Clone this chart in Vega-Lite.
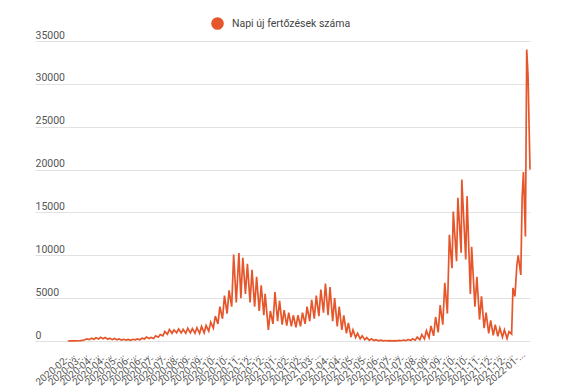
{
 "$schema": "https://vega.github.io/schema/vega-lite/v6.json",
 "width": 495, "height": 300,
 "autosize": {"type": "none"},
 "padding": {"left": 35, "top": 41, "right": 45, "bottom": 51},
 "background": "white",
 "config": {"view": {"stroke": null}, "font": "Roboto"},
 "data": {"values": [
  {"d":"2020-02-26","v":1},
  {"d":"2020-03-02","v":3},{"d":"2020-03-05","v":4},
  {"d":"2020-03-09","v":15},{"d":"2020-03-12","v":30},
  {"d":"2020-03-16","v":55},{"d":"2020-03-19","v":80},
  {"d":"2020-03-23","v":140},{"d":"2020-03-26","v":250},
  {"d":"2020-03-30","v":160},{"d":"2020-04-02","v":330},
  {"d":"2020-04-06","v":200},{"d":"2020-04-09","v":380},
  {"d":"2020-04-13","v":240},{"d":"2020-04-16","v":430},
  {"d":"2020-04-20","v":260},{"d":"2020-04-23","v":400},
  {"d":"2020-04-27","v":200},{"d":"2020-04-30","v":330},
  {"d":"2020-05-04","v":160},{"d":"2020-05-07","v":300},
  {"d":"2020-05-11","v":140},{"d":"2020-05-14","v":250},
  {"d":"2020-05-18","v":110},{"d":"2020-05-21","v":200},
  {"d":"2020-05-25","v":100},{"d":"2020-05-28","v":180},
  {"d":"2020-06-01","v":90},{"d":"2020-06-04","v":200},
  {"d":"2020-06-08","v":130},{"d":"2020-06-11","v":240},
  {"d":"2020-06-15","v":150},{"d":"2020-06-18","v":320},
  {"d":"2020-06-22","v":240},{"d":"2020-06-25","v":460},
  {"d":"2020-06-29","v":300},{"d":"2020-07-02","v":420},
  {"d":"2020-07-06","v":300},{"d":"2020-07-09","v":600},
  {"d":"2020-07-13","v":450},{"d":"2020-07-16","v":750},
  {"d":"2020-07-20","v":600},{"d":"2020-07-23","v":1100},
  {"d":"2020-07-27","v":800},{"d":"2020-07-30","v":1350},
  {"d":"2020-08-03","v":900},{"d":"2020-08-06","v":1300},
  {"d":"2020-08-10","v":950},{"d":"2020-08-13","v":1400},
  {"d":"2020-08-17","v":950},{"d":"2020-08-20","v":1350},
  {"d":"2020-08-24","v":900},{"d":"2020-08-27","v":1500},
  {"d":"2020-08-31","v":950},{"d":"2020-09-03","v":1450},
  {"d":"2020-09-07","v":900},{"d":"2020-09-10","v":1550},
  {"d":"2020-09-14","v":900},{"d":"2020-09-17","v":1700},
  {"d":"2020-09-21","v":950},{"d":"2020-09-24","v":1800},
  {"d":"2020-09-28","v":1150},{"d":"2020-10-01","v":2200},
  {"d":"2020-10-05","v":1500},{"d":"2020-10-08","v":2900},
  {"d":"2020-10-12","v":2000},{"d":"2020-10-15","v":4000},
  {"d":"2020-10-19","v":2600},{"d":"2020-10-22","v":5300},
  {"d":"2020-10-26","v":3200},{"d":"2020-10-29","v":5900},
  {"d":"2020-11-02","v":4000},{"d":"2020-11-05","v":10100},
  {"d":"2020-11-09","v":4500},{"d":"2020-11-13","v":10250},
  {"d":"2020-11-16","v":5000},{"d":"2020-11-19","v":9700},
  {"d":"2020-11-23","v":5500},{"d":"2020-11-26","v":9000},
  {"d":"2020-11-30","v":4500},{"d":"2020-12-03","v":8300},
  {"d":"2020-12-07","v":4000},{"d":"2020-12-10","v":7500},
  {"d":"2020-12-14","v":3500},{"d":"2020-12-17","v":6500},
  {"d":"2020-12-21","v":3000},{"d":"2020-12-23","v":5500},
  {"d":"2020-12-28","v":1300},{"d":"2020-12-31","v":3500},
  {"d":"2021-01-04","v":2000},{"d":"2021-01-07","v":5700},
  {"d":"2021-01-11","v":2300},{"d":"2021-01-14","v":4700},
  {"d":"2021-01-18","v":1900},{"d":"2021-01-21","v":3600},
  {"d":"2021-01-25","v":1800},{"d":"2021-01-28","v":3300},
  {"d":"2021-02-01","v":1700},{"d":"2021-02-04","v":3000},
  {"d":"2021-02-08","v":1600},{"d":"2021-02-11","v":3000},
  {"d":"2021-02-15","v":1700},{"d":"2021-02-18","v":3300},
  {"d":"2021-02-22","v":2000},{"d":"2021-02-25","v":4000},
  {"d":"2021-03-01","v":2300},{"d":"2021-03-04","v":4800},
  {"d":"2021-03-08","v":2600},{"d":"2021-03-11","v":5300},
  {"d":"2021-03-15","v":2900},{"d":"2021-03-18","v":6000},
  {"d":"2021-03-22","v":3300},{"d":"2021-03-25","v":6700},
  {"d":"2021-03-29","v":3000},{"d":"2021-04-01","v":6300},
  {"d":"2021-04-05","v":2300},{"d":"2021-04-08","v":5000},
  {"d":"2021-04-12","v":1700},{"d":"2021-04-15","v":4000},
  {"d":"2021-04-19","v":1300},{"d":"2021-04-22","v":3000},
  {"d":"2021-04-26","v":900},{"d":"2021-04-29","v":2100},
  {"d":"2021-05-03","v":450},{"d":"2021-05-06","v":1300},
  {"d":"2021-05-10","v":400},{"d":"2021-05-13","v":900},
  {"d":"2021-05-17","v":250},{"d":"2021-05-20","v":600},
  {"d":"2021-05-24","v":150},{"d":"2021-05-27","v":400},
  {"d":"2021-05-31","v":80},{"d":"2021-06-03","v":250},
  {"d":"2021-06-07","v":50},{"d":"2021-06-10","v":150},
  {"d":"2021-06-14","v":30},{"d":"2021-06-17","v":100},
  {"d":"2021-06-21","v":20},{"d":"2021-06-24","v":60},
  {"d":"2021-06-28","v":15},{"d":"2021-07-01","v":45},
  {"d":"2021-07-05","v":15},{"d":"2021-07-08","v":50},
  {"d":"2021-07-12","v":20},{"d":"2021-07-15","v":70},
  {"d":"2021-07-19","v":30},{"d":"2021-07-22","v":110},
  {"d":"2021-07-26","v":40},{"d":"2021-07-29","v":170},
  {"d":"2021-08-02","v":60},{"d":"2021-08-05","v":270},
  {"d":"2021-08-09","v":100},{"d":"2021-08-12","v":450},
  {"d":"2021-08-16","v":150},{"d":"2021-08-19","v":750},
  {"d":"2021-08-23","v":250},{"d":"2021-08-26","v":1200},
  {"d":"2021-08-30","v":400},{"d":"2021-09-02","v":1750},
  {"d":"2021-09-06","v":600},{"d":"2021-09-09","v":2800},
  {"d":"2021-09-13","v":1000},{"d":"2021-09-16","v":4200},
  {"d":"2021-09-20","v":1900},{"d":"2021-09-23","v":6800},
  {"d":"2021-09-27","v":3200},{"d":"2021-09-30","v":12400},
  {"d":"2021-10-04","v":8500},{"d":"2021-10-06","v":15100},
  {"d":"2021-10-11","v":9300},{"d":"2021-10-13","v":16700},
  {"d":"2021-10-18","v":10300},{"d":"2021-10-19","v":18850},
  {"d":"2021-10-25","v":9500},{"d":"2021-10-27","v":16900},
  {"d":"2021-11-01","v":5500},{"d":"2021-11-03","v":11000},
  {"d":"2021-11-08","v":4000},{"d":"2021-11-11","v":7500},
  {"d":"2021-11-15","v":2500},{"d":"2021-11-18","v":5200},
  {"d":"2021-11-22","v":1500},{"d":"2021-11-25","v":3300},
  {"d":"2021-11-29","v":900},{"d":"2021-12-02","v":2400},
  {"d":"2021-12-06","v":650},{"d":"2021-12-09","v":1900},
  {"d":"2021-12-13","v":550},{"d":"2021-12-16","v":1500},
  {"d":"2021-12-20","v":450},{"d":"2021-12-23","v":1300},
  {"d":"2021-12-27","v":300},{"d":"2021-12-30","v":1100},
  {"d":"2022-01-03","v":800},{"d":"2022-01-05","v":6200},
  {"d":"2022-01-08","v":5200},{"d":"2022-01-11","v":8900},
  {"d":"2022-01-13","v":10000},{"d":"2022-01-17","v":7700},
  {"d":"2022-01-19","v":16800},{"d":"2022-01-21","v":19700},
  {"d":"2022-01-24","v":12200},{"d":"2022-01-26","v":34000},
  {"d":"2022-01-28","v":31000},{"d":"2022-01-31","v":20000}
 ]},
 "mark": {"type": "line", "strokeWidth": 1.7},
 "encoding": {
  "x": {"field": "d", "type": "temporal",
   "scale": {"type": "utc", "domain": [{"year":2020,"month":1,"date":7,"utc":true},{"year":2022,"month":1,"date":31,"utc":true}]},
   "axis": {
    "values": [
     {"year":2020,"month":2,"date":29,"utc":true},{"year":2020,"month":3,"date":19,"utc":true},
     {"year":2020,"month":4,"date":6,"utc":true},{"year":2020,"month":4,"date":25,"utc":true},
     {"year":2020,"month":5,"date":14,"utc":true},{"year":2020,"month":6,"date":2,"utc":true},
     {"year":2020,"month":6,"date":21,"utc":true},{"year":2020,"month":7,"date":9,"utc":true},
     {"year":2020,"month":7,"date":28,"utc":true},{"year":2020,"month":8,"date":16,"utc":true},
     {"year":2020,"month":9,"date":3,"utc":true},{"year":2020,"month":9,"date":22,"utc":true},
     {"year":2020,"month":10,"date":11,"utc":true},{"year":2020,"month":10,"date":30,"utc":true},
     {"year":2020,"month":11,"date":18,"utc":true},{"year":2020,"month":12,"date":6,"utc":true},
     {"year":2020,"month":12,"date":25,"utc":true},{"year":2021,"month":1,"date":13,"utc":true},
     {"year":2021,"month":2,"date":1,"utc":true},{"year":2021,"month":2,"date":20,"utc":true},
     {"year":2021,"month":3,"date":10,"utc":true},{"year":2021,"month":4,"date":2,"utc":true},
     {"year":2021,"month":4,"date":21,"utc":true},{"year":2021,"month":5,"date":10,"utc":true},
     {"year":2021,"month":5,"date":29,"utc":true},{"year":2021,"month":6,"date":18,"utc":true},
     {"year":2021,"month":7,"date":7,"utc":true},{"year":2021,"month":7,"date":26,"utc":true},
     {"year":2021,"month":8,"date":15,"utc":true},{"year":2021,"month":9,"date":3,"utc":true},
     {"year":2021,"month":9,"date":22,"utc":true},{"year":2021,"month":10,"date":12,"utc":true},
     {"year":2021,"month":10,"date":31,"utc":true},{"year":2021,"month":11,"date":19,"utc":true},
     {"year":2021,"month":12,"date":8,"utc":true},{"year":2021,"month":12,"date":28,"utc":true},
     {"year":2022,"month":1,"date":16,"utc":true}
    ],
    "labelExpr": "utcFormat(datum.value, '%Y-%m-') + '...'",
    "labelAngle": -40, "labelAlign": "right", "labelBaseline": "top",
    "labelPadding": 8, "ticks": false, "domain": false, "grid": false, "title": null,
    "labelFontSize": 10, "labelColor": "#555555", "labelOverlap": false, "labelBound": false, "labelFlush": false
   }
  },
  "y": {"field": "v", "type": "quantitative",
   "scale": {"domain": [0, 35000], "nice": false},
   "axis": {
    "values": [0, 5000, 10000, 15000, 20000, 25000, 30000, 35000],
    "format": "d", "labelAlign": "left", "labelBaseline": "bottom", "labelPadding": 0, "tickSize": 0,
    "ticks": false, "domain": false, "grid": true, "gridColor": "#e2e2e2", "gridWidth": 1, "title": null,
    "labelFontSize": 10.5, "labelColor": "#555555", "labelOffset": -1
   }
  },
  "color": {"datum": "Napi új fertőzések száma",
   "scale": {"range": ["#E6562B"]},
   "legend": {"orient": "none", "legendX": 176, "legendY": -24, "title": null, "padding": 0,
    "symbolType": "circle", "symbolSize": 160, "symbolFillColor": "#E6562B", "symbolStrokeColor": "#E6562B",
    "symbolStrokeWidth": 0, "symbolOpacity": 1, "labelFontSize": 10.5, "labelColor": "#444444", "labelOffset": 8}
  }
 }
}
